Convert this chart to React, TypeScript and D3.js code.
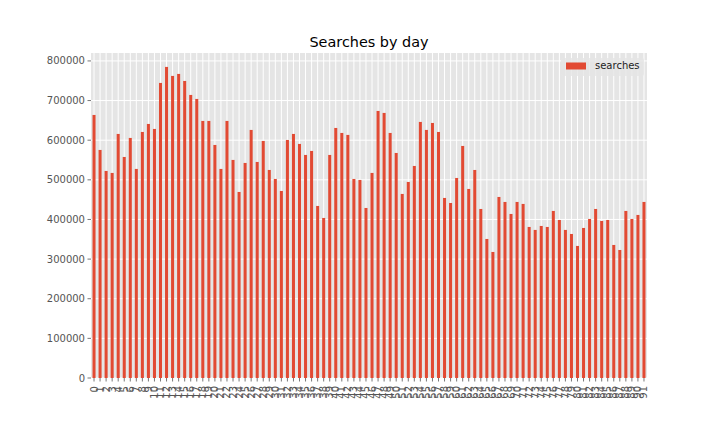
import React from "react";
import * as d3 from "d3";

const days: number[] = d3.range(92);
const searches: number[] = [
  663700, 575400, 522400, 517400, 615800, 557700, 605700, 527500, 620800, 641000,
  628400, 744500, 784900, 762200, 767200, 749500, 714200, 704100, 648600, 648600,
  588000, 527500, 648600, 550200, 469400, 542600, 625900, 545100, 598100, 524900,
  502200, 471900, 600600, 615800, 590600, 562800, 572900, 434100, 403800, 562800,
  630900, 618300, 613300, 502200, 499700, 429000, 517400, 673800, 668800, 618300,
  567800, 464400, 494600, 535000, 646100, 625900, 643500, 620800, 454300, 441600,
  504700, 585500, 477000, 524900, 426500, 350800, 318000, 456800, 444200, 413900,
  444200, 439200, 381100, 373600, 383600, 381100, 421500, 398700, 373600, 363400,
  333200, 378600, 401300, 426500, 396200, 398700, 335700, 323000, 421500, 401300,
  411400, 444200,
];
const yTicks: number[] = [0, 100000, 200000, 300000, 400000, 500000, 600000, 700000, 800000];
const title = "Searches by day";
const seriesName = "searches";

const W = 720;
const H = 432;
const L = 91;
const R = 647;
const T = 53;
const B = 378;
const FONT = "DejaVu Sans, sans-serif";
const BAR = "#E24A33";

export default function App() {
  const x = d3
    .scaleBand<number>()
    .domain(days)
    .range([L, R])
    .paddingInner(0.5)
    .paddingOuter(0.25);
  const y = d3.scaleLinear().domain([0, 820000]).range([B, T]);
  const cx = (d: number) => (x(d) as number) + x.bandwidth() / 2;

  return (
    <svg
      width={W}
      height={H}
      style={{ position: "absolute", left: 0, top: 0, background: "#fff" }}
      fontFamily={FONT}
    >
      <rect x={L} y={T} width={R - L} height={B - T} fill="#E5E5E5" />
      {days.map((d) => (
        <line key={"vg" + d} x1={cx(d)} x2={cx(d)} y1={T} y2={B} stroke="#fff" strokeWidth={1} />
      ))}
      {yTicks.map((t) => (
        <line key={"hg" + t} x1={L} x2={R} y1={y(t)} y2={y(t)} stroke="#fff" strokeWidth={1} />
      ))}
      {searches.map((v, i) => (
        <rect
          key={"b" + i}
          x={x(days[i])}
          y={y(v)}
          width={x.bandwidth()}
          height={B - y(v)}
          fill={BAR}
        />
      ))}
      {yTicks.map((t) => (
        <g key={"yt" + t}>
          <line x1={L - 3.5} x2={L} y1={y(t)} y2={y(t)} stroke="#555" strokeWidth={0.8} />
          <text x={L - 6} y={y(t)} dy="0.35em" textAnchor="end" fontSize={10} fill="#555">
            {t}
          </text>
        </g>
      ))}
      {days.map((d) => (
        <g key={"xt" + d}>
          <line x1={cx(d)} x2={cx(d)} y1={B} y2={B + 3.5} stroke="#555" strokeWidth={0.8} />
          <text
            transform={`translate(${cx(d)},${B + 8}) rotate(-90)`}
            textAnchor="end"
            dy="0.35em"
            fontSize={10}
            fill="#555"
          >
            {d}
          </text>
        </g>
      ))}
      <text x={(L + R) / 2} y={47} textAnchor="middle" fontSize={14.4} fill="#000">
        {title}
      </text>
      <g>
        <rect x={561} y={58} width={83} height={18} fill="#E5E5E5" fillOpacity={0.8} rx={2} />
        <rect x={566} y={62.5} width={20} height={7} fill={BAR} />
        <text x={595} y={69} fontSize={10} fill="#222">
          {seriesName}
        </text>
      </g>
    </svg>
  );
}
